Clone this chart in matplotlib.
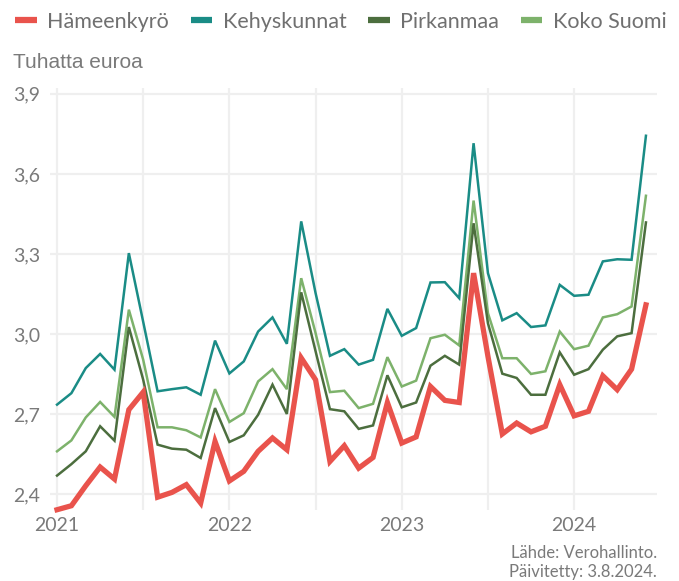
import numpy as np
import matplotlib.pyplot as plt
from matplotlib.lines import Line2D

# kuukausittain tammikuu 2021 - kesäkuu 2024
vuodet = ["2021", "2022", "2023", "2024"]

hameenkyro = [2.341, 2.356, 2.431, 2.501, 2.456, 2.716, 2.782, 2.388, 2.406, 2.435, 2.366, 2.597,
              2.449, 2.485, 2.560, 2.610, 2.566, 2.910, 2.828, 2.522, 2.581, 2.497, 2.537, 2.743,
              2.591, 2.614, 2.803, 2.751, 2.743, 3.228, 2.916, 2.625, 2.666, 2.633, 2.654, 2.810,
              2.693, 2.710, 2.843, 2.791, 2.868, 3.109]
kehyskunnat = [2.735, 2.778, 2.872, 2.925, 2.866, 3.303, 3.045, 2.785, 2.793, 2.800, 2.772, 2.975,
               2.852, 2.897, 3.009, 3.062, 2.963, 3.422, 3.153, 2.918, 2.943, 2.885, 2.903, 3.094,
               2.993, 3.022, 3.193, 3.194, 3.134, 3.715, 3.228, 3.051, 3.078, 3.026, 3.032, 3.184,
               3.143, 3.147, 3.272, 3.280, 3.278, 3.743]
pirkanmaa = [2.469, 2.512, 2.560, 2.654, 2.600, 3.026, 2.828, 2.585, 2.570, 2.566, 2.535, 2.722,
             2.595, 2.620, 2.697, 2.810, 2.700, 3.156, 2.935, 2.718, 2.710, 2.644, 2.657, 2.845,
             2.725, 2.743, 2.881, 2.918, 2.885, 3.415, 3.040, 2.851, 2.835, 2.772, 2.772, 2.931,
             2.847, 2.868, 2.941, 2.991, 3.003, 3.418]
koko_suomi = [2.560, 2.601, 2.687, 2.745, 2.689, 3.091, 2.903, 2.650, 2.650, 2.639, 2.612, 2.793,
              2.670, 2.703, 2.822, 2.868, 2.793, 3.209, 3.003, 2.782, 2.787, 2.722, 2.738, 2.913,
              2.803, 2.825, 2.984, 2.997, 2.957, 3.500, 3.078, 2.909, 2.909, 2.850, 2.860, 3.009,
              2.943, 2.956, 3.062, 3.074, 3.103, 3.518]

sarjat = ["Hämeenkyrö", "Kehyskunnat", "Pirkanmaa", "Koko Suomi"]
varit = ["#E9534C", "#1A8C86", "#4C6E3E", "#7DB26B"]
leveydet = [3.8, 1.8, 1.8, 1.8]

plt.rcParams['font.family'] = ['Lato', 'DejaVu Sans']
harmaa = "#7a7a7a"

fig = plt.figure(figsize=(6.79, 5.81), dpi=100)
ax = fig.add_axes([50 / 679, 1 - 510 / 581, 607 / 679, 422 / 581])

kk = np.arange(len(hameenkyro))
# piirretään ohuet ensin, paksu punainen lopuksi päälle
for arvot, nimi, vari, lw in list(zip([hameenkyro, kehyskunnat, pirkanmaa, koko_suomi],
                                      sarjat, varit, leveydet))[::-1]:
    ax.plot(kk, arvot, color=vari, lw=lw, solid_joinstyle='miter', label=nimi, clip_on=False)

ax.set_xlim(-0.49, 41.77)
ax.set_ylim(2.34, 3.922)
ax.set_yticks([2.4, 2.7, 3.0, 3.3, 3.6, 3.9])
ax.set_yticklabels([f"{v:.1f}".replace(".", ",") for v in [2.4, 2.7, 3.0, 3.3, 3.6, 3.9]])
ax.set_xticks([0, 12, 24, 36])
ax.set_xticklabels(vuodet)
ax.set_xticks([6, 18, 30], minor=True)

ax.grid(True, which='both', color="#EFEFEF", lw=1.6)
ax.set_axisbelow(True)
for s in ax.spines.values():
    s.set_visible(False)
ax.tick_params(which='both', length=0, labelsize=14, colors=harmaa)
ax.tick_params(axis='y', pad=7)
ax.tick_params(axis='x', pad=5)

fig.text(13 / 679, 1 - 62 / 581, "Tuhatta euroa", fontsize=15, color=harmaa, va='center',
         family=['Liberation Sans', 'DejaVu Sans'])

kahvat = [Line2D([0], [0], color=v, lw=4.5, solid_capstyle='butt') for v in varit]
fig.legend(kahvat, sarjat, loc='center', bbox_to_anchor=(341 / 679, 1 - 22 / 581), ncol=4,
           frameon=False, fontsize=15.5, handlelength=1.0, handletextpad=0.5, columnspacing=1.0,
           labelcolor="#707070")

fig.text(657 / 679, 1 - 553 / 581, "Lähde: Verohallinto.", fontsize=12, color=harmaa,
         ha='right', va='center')
fig.text(657 / 679, 1 - 572 / 581, "Päivitetty: 3.8.2024.", fontsize=12, color=harmaa,
         ha='right', va='center')

fig.savefig("out.png", dpi=100)
